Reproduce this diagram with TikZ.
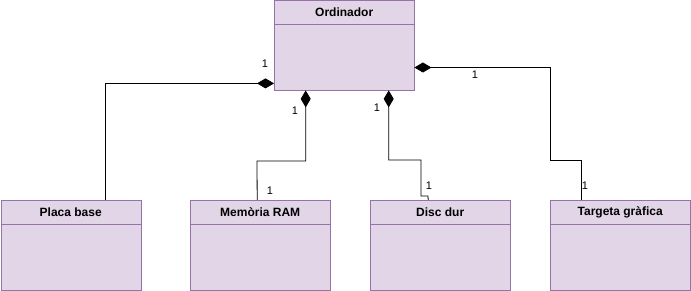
\documentclass[tikz,border=0pt]{standalone}
\usepackage{fontspec}
\setmainfont{Liberation Sans}
\usetikzlibrary{arrows.meta,calc}
\definecolor{classfill}{HTML}{E1D5E7}
\definecolor{classdraw}{HTML}{9673A6}
\tikzset{
	classbox/.style = {draw = classdraw, fill = classfill, rectangle, minimum width = 140pt, minimum height = 89.5pt, inner sep = 0pt, anchor = north west},
	classname/.style = {font = \bfseries\fontsize{12}{14}\selectfont, inner sep = 0pt},
	comp/.style = {{Diamond[length = 17pt, width = 10pt]}-, line width = 0.8pt},
	mult/.style = {font = \fontsize{11}{13}\selectfont, inner sep = 0pt}
}
\begin{document}
\begin{tikzpicture} [x = 1pt, y = -1pt]
	\useasboundingbox (0,0) rectangle (691,291);
	\node [classbox] (ord) at (274,0.5) {};
	\node [classbox] (placa) at (0.5,200) {};
	\node [classbox] (ram) at (190,200) {};
	\node [classbox] (disc) at (370,200) {};
	\node [classbox] (targ) at (550,200) {};
	\draw [classdraw] ($(ord.north west)+(0,24)$) -- ($(ord.north east)+(0,24)$);
	\draw [classdraw] ($(placa.north west)+(0,24)$) -- ($(placa.north east)+(0,24)$);
	\draw [classdraw] ($(ram.north west)+(0,24)$) -- ($(ram.north east)+(0,24)$);
	\draw [classdraw] ($(disc.north west)+(0,24)$) -- ($(disc.north east)+(0,24)$);
	\draw [classdraw] ($(targ.north west)+(0,24)$) -- ($(targ.north east)+(0,24)$);
	\node [classname] (ordname) at ($(ord.north)+(0,12)$) {Ordinador};
	\node [classname] (placaname) at ($(placa.north)+(0,12)$) {Placa base};
	\node [classname] (ramname) at ($(ram.north)+(0,12)$) {Memòria RAM};
	\node [classname] (discname) at ($(disc.north)+(0,12)$) {Disc dur};
	\node [classname] (targname) at ($(targ.north)+(0,12)$) {Targeta gràfica};
	\draw [comp] ($(ord.south west)+(0,-7)$) -| ([xshift = 34.5pt]placa.north);
	\draw [comp] ([xshift = -38.5pt]ord.south) |- (257,161) -- ([xshift = -3pt]ram.north);
	\draw [comp] ([xshift = 44.5pt]ord.south) |- (421,160) |- (428,196) -- ([xshift = -12pt]disc.north);
	\draw [comp] ($(ord.north east)+(0,67)$) -| (550,160) -| ([xshift = -39pt]targ.north);
	\node [mult] (m1) at (265,64) {1};
	\node [mult] (m2) at (295,111) {1};
	\node [mult] (m3) at (270,191) {1};
	\node [mult] (m4) at (377,108) {1};
	\node [mult] (m5) at (429,186) {1};
	\node [mult] (m6) at (475,75) {1};
	\node [mult] (m7) at (585,186) {1};
\end{tikzpicture}
\end{document}
